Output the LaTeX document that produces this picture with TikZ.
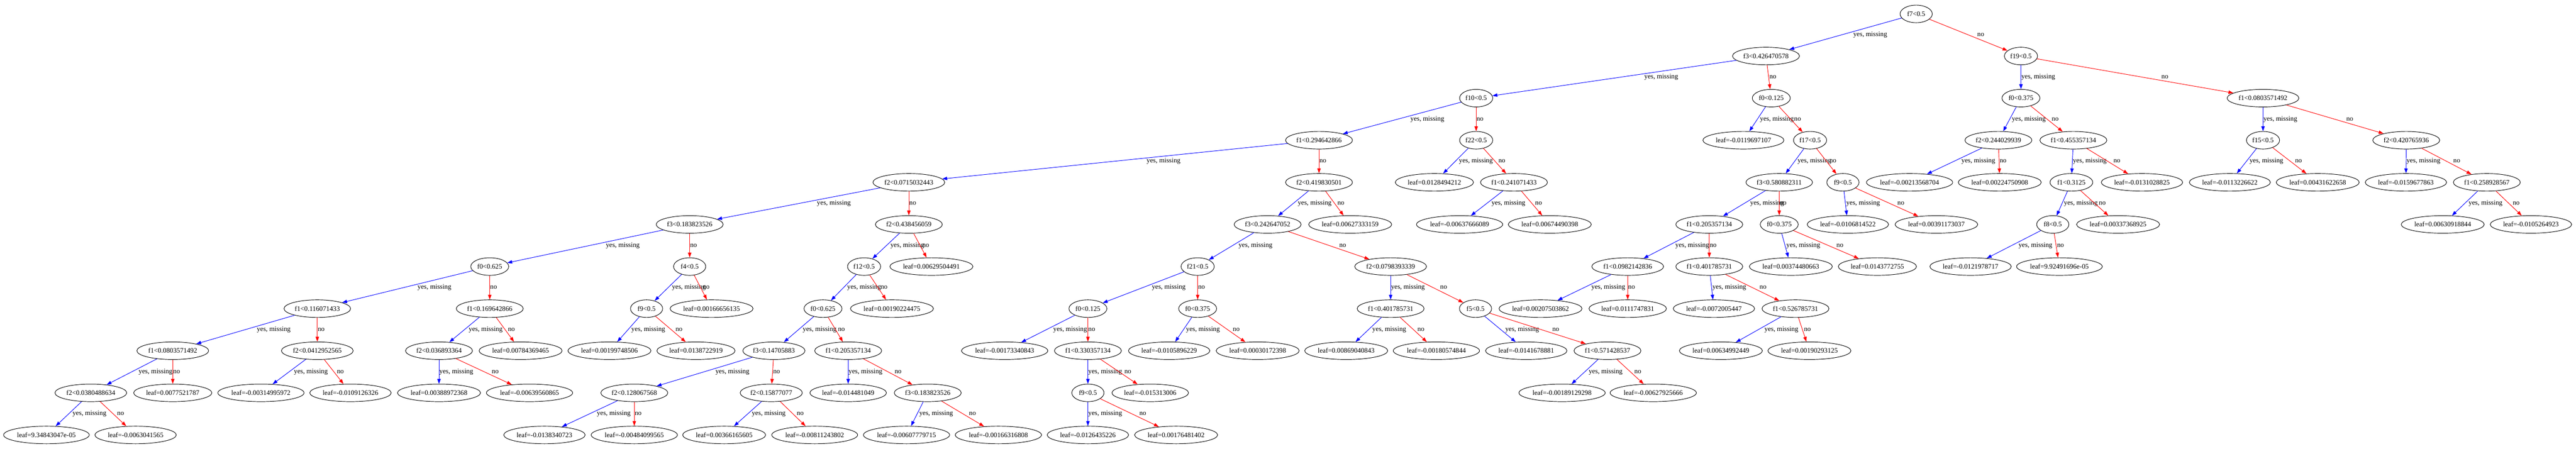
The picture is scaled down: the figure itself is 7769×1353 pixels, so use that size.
\documentclass[tikz,border=0pt]{standalone}
\usepackage{fontspec}
\setmainfont{Liberation Serif}
\usetikzlibrary{shapes.geometric,arrows.meta,calc}
\tikzset{
  tn/.style={ellipse, draw=black, line width=1pt, inner xsep=2pt, inner ysep=1pt,
    minimum height=36pt, minimum width=66pt, font=\fontsize{14pt}{16pt}\selectfont},
  yesedge/.style={draw=blue, line width=1pt, -{Triangle[length=10pt,width=7pt]}},
  noedge/.style={draw=red, line width=1pt, -{Triangle[length=10pt,width=7pt]}},
  lbl/.style={anchor=west, inner sep=0pt, font=\fontsize{14pt}{16pt}\selectfont}
}
\newcommand\yesE[2]{\draw[yesedge] (#1) -- (#2);
  \path let \p1=(#1), \p2=(#2) in node[lbl] at ({0.5*\x1+0.5*\x2+0.0788*abs(\x2-\x1)+0.7pt},{0.5*\y1+0.5*\y2}) {yes, missing};}
\newcommand\noE[2]{\draw[noedge] (#1) -- (#2);
  \path let \p1=(#1), \p2=(#2) in node[lbl] at ({0.5*\x1+0.5*\x2+0.0788*abs(\x2-\x1)+0.7pt},{0.5*\y1+0.5*\y2}) {no};}
\begin{document}
\begin{tikzpicture}[x=0.68pt,y=-0.68pt]
\useasboundingbox (0,0) rectangle (7769,1353);
% L0
\node[tn] (A0) at (5779,42) {f7<0.5};
% L1
\node[tn] (B1) at (5326,168.9) {f3<0.426470578};
\node[tn] (B2) at (6095,168.9) {f19<0.5};
% L2
\node[tn] (C1) at (4452,295.8) {f10<0.5};
\node[tn] (C2) at (5342,295.8) {f0<0.125};
\node[tn] (C3) at (6095,295.8) {f0<0.375};
\node[tn] (C4) at (6825,295.8) {f1<0.0803571492};
% L3
\node[tn] (D1) at (3978,422.7) {f1<0.294642866};
\node[tn] (D2) at (4452,422.7) {f22<0.5};
\node[tn] (D3) at (5258,422.7) {leaf=-0.0119697107};
\node[tn] (D4) at (5459,422.7) {f17<0.5};
\node[tn] (D5) at (6027,422.7) {f2<0.244029939};
\node[tn] (D6) at (6253,422.7) {f1<0.455357134};
\node[tn] (D7) at (6825,422.7) {f15<0.5};
\node[tn] (D8) at (7257,422.7) {f2<0.420765936};
% L4
\node[tn] (E1) at (2741,549.6) {f2<0.0715032443};
\node[tn] (E2) at (3978,549.6) {f2<0.419830501};
\node[tn] (E3) at (4326,549.6) {leaf=0.0128494212};
\node[tn] (E4) at (4566,549.6) {f1<0.241071433};
\node[tn] (E5) at (5366,549.6) {f3<0.580882311};
\node[tn] (E6) at (5558,549.6) {f9<0.5};
\node[tn] (E7) at (5759,549.6) {leaf=-0.00213568704};
\node[tn] (E8) at (6031,549.6) {leaf=0.00224750908};
\node[tn] (E9) at (6247,549.6) {f1<0.3125};
\node[tn] (E10) at (6460,549.6) {leaf=-0.0131028825};
\node[tn] (E11) at (6725,549.6) {leaf=-0.0113226622};
\node[tn] (E12) at (6990,549.6) {leaf=0.00431622658};
\node[tn] (E13) at (7256,549.6) {leaf=-0.0159677863};
\node[tn] (E14) at (7500,549.6) {f1<0.258928567};
% L5
\node[tn] (F1) at (2080,676.5) {f3<0.183823526};
\node[tn] (F2) at (2741,676.5) {f2<0.438456059};
\node[tn] (F3) at (3823,676.5) {f3<0.242647052};
\node[tn] (F4) at (4072,676.5) {leaf=0.00627333159};
\node[tn] (F5) at (4402,676.5) {leaf=-0.00637666089};
\node[tn] (F6) at (4674,676.5) {leaf=0.00674490398};
\node[tn] (F7) at (5155,676.5) {f1<0.205357134};
\node[tn] (F8) at (5366,676.5) {f0<0.375};
\node[tn] (F9) at (5573,676.5) {leaf=-0.0106814522};
\node[tn] (F10) at (5840,676.5) {leaf=0.00391173037};
\node[tn] (F11) at (6191,676.5) {f8<0.5};
\node[tn] (F12) at (6388,676.5) {leaf=0.00337368925};
\node[tn] (F13) at (7367,676.5) {leaf=0.00630918844};
\node[tn] (F14) at (7633,676.5) {leaf=-0.0105264923};
% L6
\node[tn] (G1) at (1477,803.4) {f0<0.625};
\node[tn] (G2) at (2080,803.4) {f4<0.5};
\node[tn] (G3) at (2606,803.4) {f12<0.5};
\node[tn] (G4) at (2809,803.4) {leaf=0.00629504491};
\node[tn] (G5) at (3612,803.4) {f21<0.5};
\node[tn] (G6) at (4194,803.4) {f2<0.0798393339};
\node[tn] (G7) at (4909,803.4) {f1<0.0982142836};
\node[tn] (G8) at (5155,803.4) {f1<0.401785731};
\node[tn] (G9) at (5401,803.4) {leaf=0.00374480663};
\node[tn] (G10) at (5662,803.4) {leaf=0.0143772755};
\node[tn] (G11) at (5943,803.4) {leaf=-0.0121978717};
\node[tn] (G12) at (6211,803.4) {leaf=9.92491696e-05};
% L7
\node[tn] (H1) at (957,930.3) {f1<0.116071433};
\node[tn] (H2) at (1477,930.3) {f1<0.169642866};
\node[tn] (H3) at (1950,930.3) {f9<0.5};
\node[tn] (H4) at (2146,930.3) {leaf=0.00166656135};
\node[tn] (H5) at (2482,930.3) {f0<0.625};
\node[tn] (H6) at (2690,930.3) {leaf=0.00190224475};
\node[tn] (H7) at (3281,930.3) {f0<0.125};
\node[tn] (H8) at (3612,930.3) {f0<0.375};
\node[tn] (H9) at (4194,930.3) {f1<0.401785731};
\node[tn] (H10) at (4450,930.3) {f5<0.5};
\node[tn] (H11) at (4646,930.3) {leaf=0.00207503862};
\node[tn] (H12) at (4909,930.3) {leaf=0.0111747831};
\node[tn] (H13) at (5169,930.3) {leaf=-0.0072005447};
\node[tn] (H14) at (5415,930.3) {f1<0.526785731};
% L8
\node[tn] (I1) at (521,1057.2) {f1<0.0803571492};
\node[tn] (I2) at (957,1057.2) {f2<0.0412952565};
\node[tn] (I3) at (1324,1057.2) {f2<0.036893364};
\node[tn] (I4) at (1570,1057.2) {leaf=0.00784369465};
\node[tn] (I5) at (1838,1057.2) {leaf=0.00199748506};
\node[tn] (I6) at (2099,1057.2) {leaf=0.0138722919};
\node[tn] (I7) at (2334,1057.2) {f3<0.14705883};
\node[tn] (I8) at (2558,1057.2) {f1<0.205357134};
\node[tn] (I9) at (3030,1057.2) {leaf=-0.00173340843};
\node[tn] (I10) at (3281,1057.2) {f1<0.330357134};
\node[tn] (I11) at (3526,1057.2) {leaf=-0.0105896229};
\node[tn] (I12) at (3793,1057.2) {leaf=0.00030172398};
\node[tn] (I13) at (4060,1057.2) {leaf=0.00869040843};
\node[tn] (I14) at (4332,1057.2) {leaf=-0.00180574844};
\node[tn] (I15) at (4603,1057.2) {leaf=-0.0141678881};
\node[tn] (I16) at (4848,1057.2) {f1<0.571428537};
\node[tn] (I17) at (5190,1057.2) {leaf=0.00634992449};
\node[tn] (I18) at (5457,1057.2) {leaf=0.00190293125};
% L9
\node[tn] (J1) at (274,1184.1) {f2<0.0380488634};
\node[tn] (J2) at (521,1184.1) {leaf=0.0077521787};
\node[tn] (J3) at (787,1184.1) {leaf=-0.00314995972};
\node[tn] (J4) at (1057,1184.1) {leaf=-0.0109126326};
\node[tn] (J5) at (1324,1184.1) {leaf=0.00388972368};
\node[tn] (J6) at (1597,1184.1) {leaf=-0.00639560865};
\node[tn] (J7) at (1913,1184.1) {f2<0.128067568};
\node[tn] (J8) at (2326,1184.1) {f2<0.15877077};
\node[tn] (J9) at (2558,1184.1) {leaf=-0.014481049};
\node[tn] (J10) at (2798,1184.1) {f3<0.183823526};
\node[tn] (J11) at (3281,1184.1) {f9<0.5};
\node[tn] (J12) at (3469,1184.1) {leaf=-0.015313006};
\node[tn] (J13) at (4711,1184.1) {leaf=-0.00189129298};
\node[tn] (J14) at (4986,1184.1) {leaf=-0.00627925666};
% L10
\node[tn] (K1) at (140,1311) {leaf=9.34843047e-05};
\node[tn] (K2) at (409,1311) {leaf=-0.0063041565};
\node[tn] (K3) at (1642,1311) {leaf=-0.0138340723};
\node[tn] (K4) at (1913,1311) {leaf=-0.00484099565};
\node[tn] (K5) at (2184,1311) {leaf=0.00366165605};
\node[tn] (K6) at (2457,1311) {leaf=-0.00811243802};
\node[tn] (K7) at (2734,1311) {leaf=-0.00607779715};
\node[tn] (K8) at (3011,1311) {leaf=-0.00166316808};
\node[tn] (K9) at (3281,1311) {leaf=-0.0126435226};
\node[tn] (K10) at (3547,1311) {leaf=0.00176481402};
% edges
\yesE{A0}{B1} \noE{A0}{B2}
\yesE{B1}{C1} \noE{B1}{C2}
\yesE{B2}{C3} \noE{B2}{C4}
\yesE{C1}{D1} \noE{C1}{D2}
\yesE{C2}{D3} \noE{C2}{D4}
\yesE{C3}{D5} \noE{C3}{D6}
\yesE{C4}{D7} \noE{C4}{D8}
\yesE{D1}{E1} \noE{D1}{E2}
\yesE{D2}{E3} \noE{D2}{E4}
\yesE{D4}{E5} \noE{D4}{E6}
\yesE{D5}{E7} \noE{D5}{E8}
\yesE{D6}{E9} \noE{D6}{E10}
\yesE{D7}{E11} \noE{D7}{E12}
\yesE{D8}{E13} \noE{D8}{E14}
\yesE{E1}{F1} \noE{E1}{F2}
\yesE{E2}{F3} \noE{E2}{F4}
\yesE{E4}{F5} \noE{E4}{F6}
\yesE{E5}{F7} \noE{E5}{F8}
\yesE{E6}{F9} \noE{E6}{F10}
\yesE{E9}{F11} \noE{E9}{F12}
\yesE{E14}{F13} \noE{E14}{F14}
\yesE{F1}{G1} \noE{F1}{G2}
\yesE{F2}{G3} \noE{F2}{G4}
\yesE{F3}{G5} \noE{F3}{G6}
\yesE{F7}{G7} \noE{F7}{G8}
\yesE{F8}{G9} \noE{F8}{G10}
\yesE{F11}{G11} \noE{F11}{G12}
\yesE{G1}{H1} \noE{G1}{H2}
\yesE{G2}{H3} \noE{G2}{H4}
\yesE{G3}{H5} \noE{G3}{H6}
\yesE{G5}{H7} \noE{G5}{H8}
\yesE{G6}{H9} \noE{G6}{H10}
\yesE{G7}{H11} \noE{G7}{H12}
\yesE{G8}{H13} \noE{G8}{H14}
\yesE{H1}{I1} \noE{H1}{I2}
\yesE{H2}{I3} \noE{H2}{I4}
\yesE{H3}{I5} \noE{H3}{I6}
\yesE{H5}{I7} \noE{H5}{I8}
\yesE{H7}{I9} \noE{H7}{I10}
\yesE{H8}{I11} \noE{H8}{I12}
\yesE{H9}{I13} \noE{H9}{I14}
\yesE{H10}{I15} \noE{H10}{I16}
\yesE{H14}{I17} \noE{H14}{I18}
\yesE{I1}{J1} \noE{I1}{J2}
\yesE{I2}{J3} \noE{I2}{J4}
\yesE{I3}{J5} \noE{I3}{J6}
\yesE{I7}{J7} \noE{I7}{J8}
\yesE{I8}{J9} \noE{I8}{J10}
\yesE{I10}{J11} \noE{I10}{J12}
\yesE{I16}{J13} \noE{I16}{J14}
\yesE{J1}{K1} \noE{J1}{K2}
\yesE{J7}{K3} \noE{J7}{K4}
\yesE{J8}{K5} \noE{J8}{K6}
\yesE{J10}{K7} \noE{J10}{K8}
\yesE{J11}{K9} \noE{J11}{K10}
\end{tikzpicture}
\end{document}
